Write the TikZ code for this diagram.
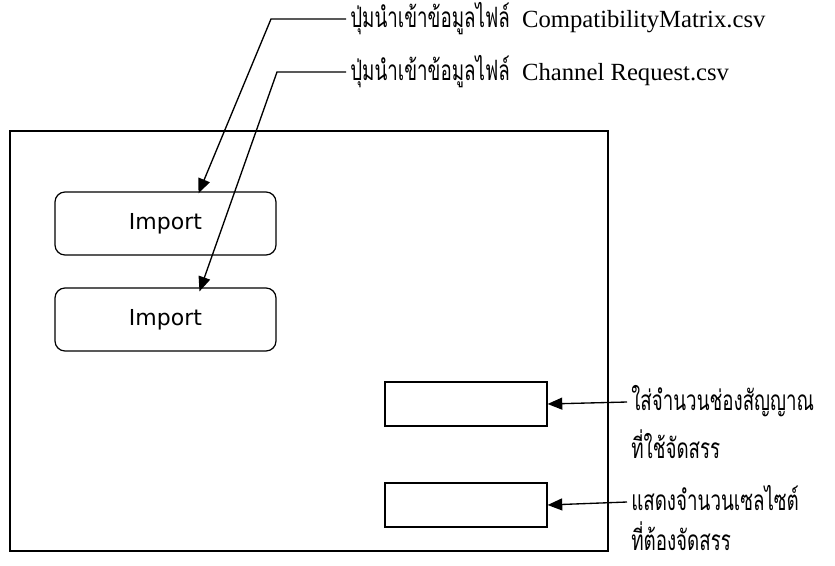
\documentclass[tikz,border=0pt]{standalone}
\usepackage{fontspec}
\setmainfont{Liberation Serif}
\newfontfamily\thaifont[Script=Thai, FakeStretch=0.67]{Loma}
\newfontfamily\btnfont{DejaVu Sans}
\usetikzlibrary{arrows.meta, calc, positioning}

\newcommand{\thaitext}[1]{{\thaifont\fontsize{21}{24}\selectfont #1}}

\tikzset{
  importbtn/.style={draw, line width=0.9pt, rounded corners=7.5pt,
    minimum width=165.75pt, minimum height=47.25pt, inner sep=0pt,
    font=\btnfont\fontsize{16.5}{19}\selectfont},
  field/.style={draw, line width=0.9pt, minimum width=121.5pt,
    minimum height=33pt, inner sep=0pt},
  note/.style={anchor=west, inner xsep=3pt, inner ysep=0pt,
    text height=16pt, text depth=4pt, font=\fontsize{18.5}{22}\selectfont},
  pointer/.style={line width=1pt, -{Triangle[length=11pt,width=9pt]}}
}

\begin{document}
\begin{tikzpicture}[x=0.75pt, y=-0.75pt]
  \useasboundingbox (0,0) rectangle (835,565);

  % window frame
  \draw[line width=1.4pt] (10,131) rectangle (608,551);

  % buttons and text fields
  \node[importbtn] (imp1) at (165.5,223.5) {Import};
  \node[importbtn] (imp2) at (165.5,319.5) {Import};
  \node[field] (cells) at (466,404) {};
  \node[field] (sites) at (466,505) {};

  % labels
  \node[note] (lblmatrix) at (346,19) {\thaitext{ปุ่มนำเข้าข้อมูลไฟล์}\ \ CompatibilityMatrix.csv};
  \node[note] (lblrequest) at (346,72) {\thaitext{ปุ่มนำเข้าข้อมูลไฟล์}\ \ Channel Request.csv};
  \node[note] (lblcells) at (627,402) {\thaitext{ใส่จำนวนช่องสัญญาณ}};
  \node[note] (lblcells2) at (627,450) {\thaitext{ที่ใช้จัดสรร}};
  \node[note] (lblsites) at (627,502) {\thaitext{แสดงจำนวนเซลไซต์}};
  \node[note] (lblsites2) at (627,542) {\thaitext{ที่ต้องจัดสรร}};

  % bends of the import pointers
  \coordinate (bendm) at (271,19);
  \coordinate (bendr) at (277,72);

  \draw[pointer] (lblmatrix.west) -- (bendm) -- ($(imp1.north)+(33,2)$);
  \draw[pointer] (lblrequest.west) -- (bendr) -- ($(imp2.north)+(34,4)$);
  \draw[pointer] (lblcells.west) -- (cells.east);
  \draw[pointer] (lblsites.west) -- (sites.east);
\end{tikzpicture}
\end{document}
